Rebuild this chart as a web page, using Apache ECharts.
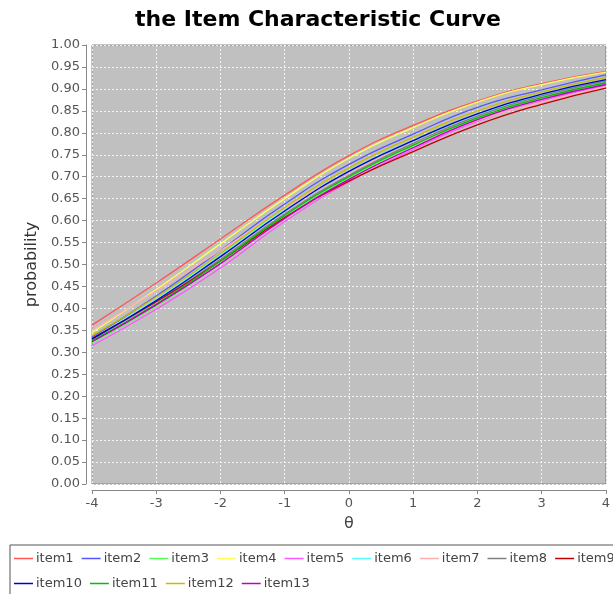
<!DOCTYPE html>
<html style="height: 100%">
<head>
  <meta charset="utf-8" />
  <title>the Item Characteristic Curve</title>
  <script src="https://cdn.jsdelivr.net/npm/echarts@6.0.0/dist/echarts.min.js"></script>
</head>
<body style="height: 100%; margin: 0; background: #fff">
  <div id="chart" style="width: 613px; height: 594px"></div>
  <script>
    const thetas = [-4, -3, -2, -1, 0, 1, 2, 3, 4];

    const item1  = [0.362, 0.458, 0.558, 0.658, 0.748, 0.817, 0.872, 0.912, 0.940];
    const item2  = [0.335, 0.428, 0.532, 0.638, 0.728, 0.797, 0.858, 0.898, 0.932];
    const item3  = [0.322, 0.405, 0.503, 0.608, 0.697, 0.770, 0.832, 0.877, 0.913];
    const item4  = [0.345, 0.443, 0.547, 0.650, 0.742, 0.812, 0.870, 0.910, 0.938];
    const item5  = [0.315, 0.398, 0.492, 0.598, 0.688, 0.762, 0.826, 0.872, 0.908];
    const item6  = [0.332, 0.420, 0.522, 0.625, 0.713, 0.783, 0.842, 0.885, 0.917];
    const item7  = [0.350, 0.440, 0.532, 0.628, 0.710, 0.773, 0.828, 0.870, 0.905];
    const item8  = [0.330, 0.415, 0.512, 0.615, 0.703, 0.776, 0.838, 0.884, 0.918];
    const item9  = [0.332, 0.415, 0.508, 0.607, 0.690, 0.757, 0.818, 0.865, 0.902];
    const item10 = [0.330, 0.418, 0.518, 0.622, 0.712, 0.782, 0.843, 0.888, 0.921];
    const item11 = [0.326, 0.410, 0.508, 0.612, 0.700, 0.772, 0.834, 0.880, 0.914];
    const item12 = [0.338, 0.426, 0.525, 0.630, 0.720, 0.790, 0.850, 0.893, 0.926];
    const item13 = [0.324, 0.408, 0.502, 0.605, 0.694, 0.766, 0.830, 0.876, 0.910];

    const names = ['item1', 'item2', 'item3', 'item4', 'item5', 'item6', 'item7',
                   'item8', 'item9', 'item10', 'item11', 'item12', 'item13'];
    const values = [item1, item2, item3, item4, item5, item6, item7,
                    item8, item9, item10, item11, item12, item13];
    const colors = ['#ff5555', '#5555ff', '#55ff55', '#ffff55', '#ff55ff', '#55ffff', '#ffafaf',
                    '#808080', '#c00000', '#0000c0', '#00c000', '#c0c000', '#c000c0'];

    var chart = echarts.init(document.getElementById('chart'));

    const series = names.map((name, idx) => ({
      name: name,
      type: 'line',
      smooth: true,
      symbol: 'none',
      data: thetas.map((t, i) => [t, values[idx][i]]),
      lineStyle: { width: 1.3, color: colors[idx] },
      itemStyle: { color: colors[idx] }
    }));

    const font = 'DejaVu Sans';

    chart.setOption({
      animation: false,
      backgroundColor: '#fff',
      title: {
        text: 'the Item Characteristic Curve',
        left: 135,
        top: 9,
        padding: 0,
        textStyle: { fontFamily: font, fontWeight: 'bold', fontSize: 22, color: '#000' }
      },
      legend: {
        data: names,
        left: 10,
        top: 545,
        width: 640,
        padding: [5, 4, 6, 4],
        borderColor: '#555',
        borderWidth: 1,
        borderRadius: 0,
        icon: 'rect',
        itemWidth: 19,
        itemHeight: 1.5,
        itemGap: 8,
        textStyle: { fontFamily: font, fontSize: 13, color: '#444', lineHeight: 17, padding: [0, 0, 0, -2] }
      },
      grid: {
        left: 92, right: 5, top: 45, bottom: 110,
        show: true,
        backgroundColor: '#c0c0c0',
        borderColor: '#888',
        borderWidth: 1
      },
      xAxis: {
        type: 'value',
        min: -4, max: 4, interval: 1,
        offset: 6,
        name: 'θ',
        nameLocation: 'middle',
        nameGap: 26,
        nameTextStyle: { fontFamily: font, fontSize: 16, color: '#444' },
        axisLine: { show: true, onZero: false, lineStyle: { color: '#888' } },
        axisTick: { show: true, length: 4, lineStyle: { color: '#888' } },
        axisLabel: { fontFamily: font, fontSize: 13, color: '#555', margin: 7 },
        splitLine: { show: true, lineStyle: { color: 'rgba(255,255,255,0.8)', type: [2, 2] } }
      },
      yAxis: {
        type: 'value',
        min: 0, max: 1, interval: 0.05,
        offset: 6,
        name: 'probability',
        nameLocation: 'middle',
        nameGap: 38,
        nameTextStyle: { fontFamily: font, fontSize: 16, color: '#333' },
        axisLine: { show: true, onZero: false, lineStyle: { color: '#888' } },
        axisTick: { show: true, length: 4, lineStyle: { color: '#888' } },
        axisLabel: {
          fontFamily: font, fontSize: 13, color: '#555', margin: 6,
          formatter: v => v.toFixed(2)
        },
        splitLine: { show: true, lineStyle: { color: 'rgba(255,255,255,0.8)', type: [2, 2] } }
      },
      series: series
    });
  </script>
</body>
</html>
